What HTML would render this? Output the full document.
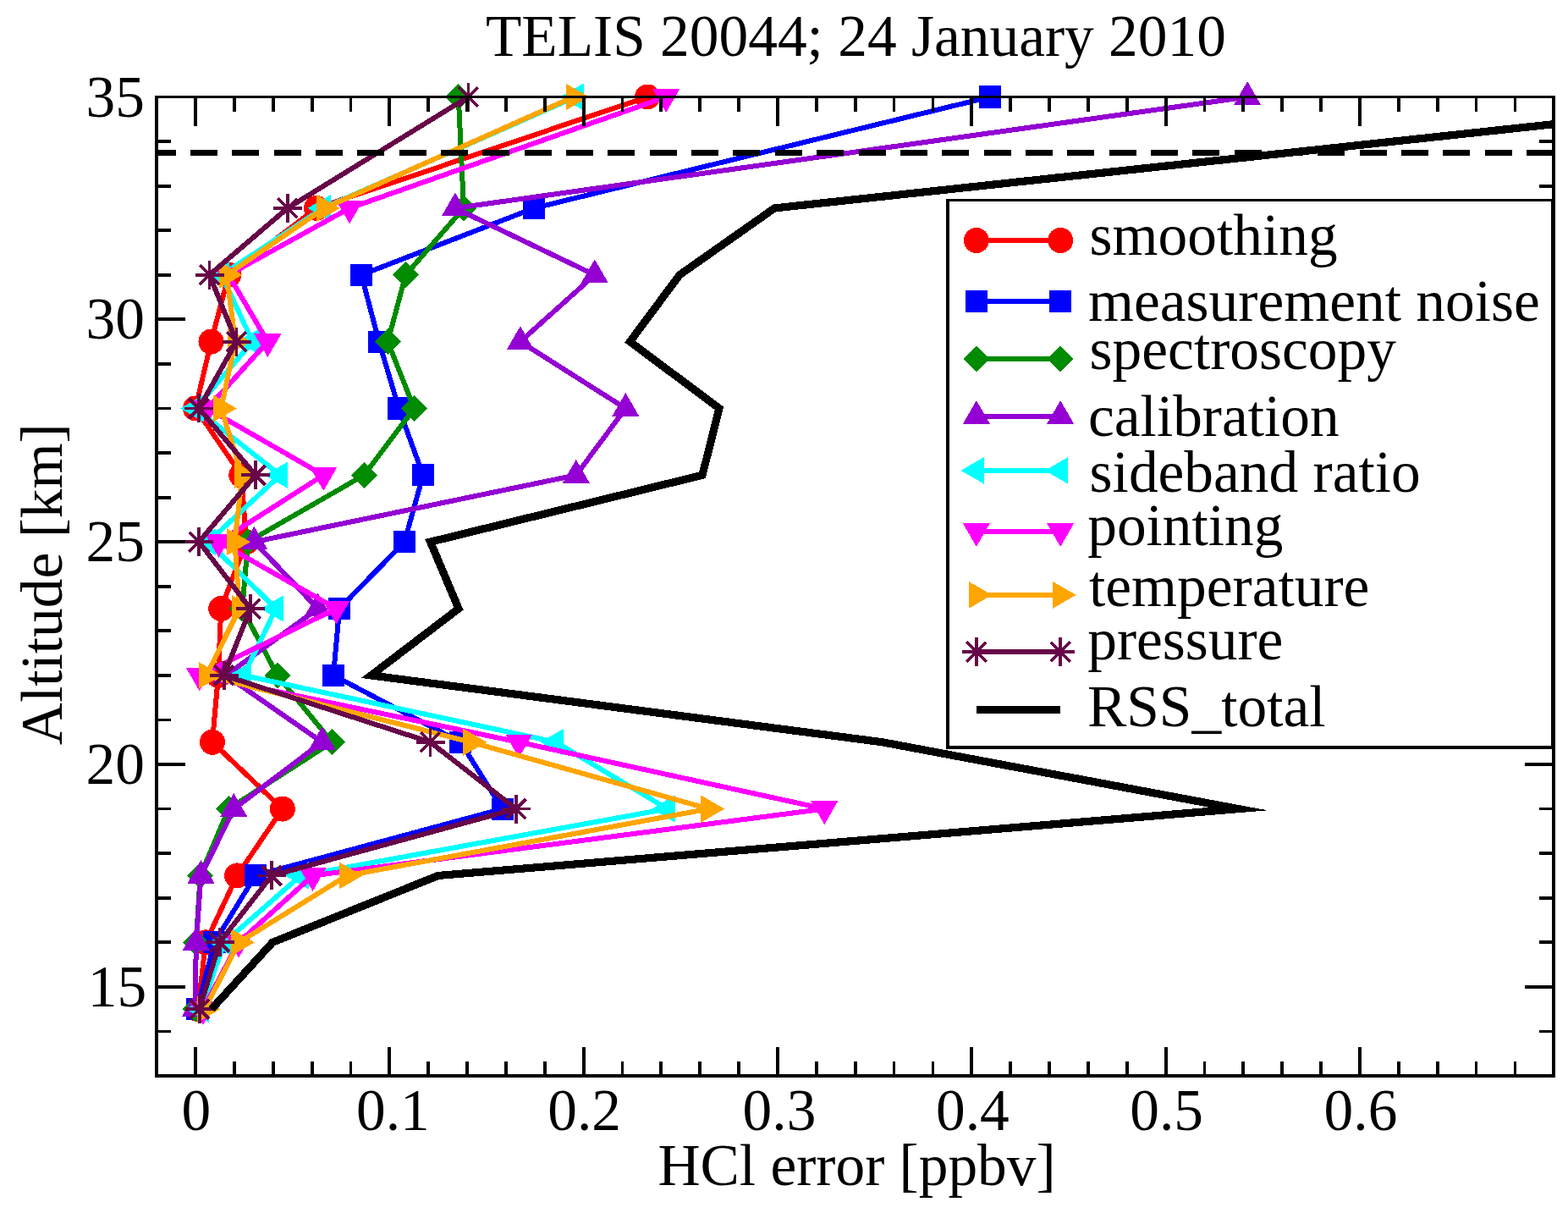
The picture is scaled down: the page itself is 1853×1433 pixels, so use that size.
<!DOCTYPE html>
<html lang="en"><head><meta charset="utf-8"><title>TELIS 20044; 24 January 2010</title>
<style>html,body{margin:0;padding:0;background:#fff}body{width:1853px;height:1433px;overflow:hidden}svg{display:block}text{font-family:"Liberation Serif","Times New Roman",Times,serif;font-size:69.4px;fill:#000}</style></head><body>
<svg width="1853" height="1433" viewBox="0 0 1853 1433">
<rect width="1853" height="1433" fill="#fff"/>
<defs><clipPath id="clip"><rect x="185" y="114.5" width="1650.8" height="1156.5"/></clipPath></defs>
<g shape-rendering="crispEdges">
<g><polyline clip-path="url(#clip)" points="234,1192.15 243,1113.3 280.2,1034.44 333.8,955.59 250.9,876.74 258,797.89 261.2,719.03 291,640.18 285.3,561.33 231,482.48 249.5,403.62 270.3,324.77 374,245.92 765.1,114.5" fill="none" stroke="#ff0000" stroke-width="6" stroke-linejoin="round"/>
<circle cx="234" cy="1192.15" r="15" fill="#ff0000"/>
<circle cx="243" cy="1113.3" r="15" fill="#ff0000"/>
<circle cx="280.2" cy="1034.44" r="15" fill="#ff0000"/>
<circle cx="333.8" cy="955.59" r="15" fill="#ff0000"/>
<circle cx="250.9" cy="876.74" r="15" fill="#ff0000"/>
<circle cx="258" cy="797.89" r="15" fill="#ff0000"/>
<circle cx="261.2" cy="719.03" r="15" fill="#ff0000"/>
<circle cx="291" cy="640.18" r="15" fill="#ff0000"/>
<circle cx="285.3" cy="561.33" r="15" fill="#ff0000"/>
<circle cx="231" cy="482.48" r="15" fill="#ff0000"/>
<circle cx="249.5" cy="403.62" r="15" fill="#ff0000"/>
<circle cx="270.3" cy="324.77" r="15" fill="#ff0000"/>
<circle cx="374" cy="245.92" r="15" fill="#ff0000"/>
<circle cx="765.1" cy="114.5" r="15" fill="#ff0000"/>
</g>
<g><polyline clip-path="url(#clip)" points="233,1192.15 253.5,1113.3 301.7,1034.44 593.7,955.59 544.2,876.74 394,797.89 401.1,719.03 478,640.18 499.9,561.33 471.3,482.48 447.9,403.62 427,324.77 631.1,245.92 1170,114.5" fill="none" stroke="#0000ff" stroke-width="6" stroke-linejoin="round"/>
<rect x="219.95" y="1179.1" width="26.1" height="26.1" fill="#0000ff"/>
<rect x="240.45" y="1100.25" width="26.1" height="26.1" fill="#0000ff"/>
<rect x="288.65" y="1021.39" width="26.1" height="26.1" fill="#0000ff"/>
<rect x="580.65" y="942.54" width="26.1" height="26.1" fill="#0000ff"/>
<rect x="531.15" y="863.69" width="26.1" height="26.1" fill="#0000ff"/>
<rect x="380.95" y="784.84" width="26.1" height="26.1" fill="#0000ff"/>
<rect x="388.05" y="705.98" width="26.1" height="26.1" fill="#0000ff"/>
<rect x="464.95" y="627.13" width="26.1" height="26.1" fill="#0000ff"/>
<rect x="486.85" y="548.28" width="26.1" height="26.1" fill="#0000ff"/>
<rect x="458.25" y="469.43" width="26.1" height="26.1" fill="#0000ff"/>
<rect x="434.85" y="390.57" width="26.1" height="26.1" fill="#0000ff"/>
<rect x="413.95" y="311.72" width="26.1" height="26.1" fill="#0000ff"/>
<rect x="618.05" y="232.87" width="26.1" height="26.1" fill="#0000ff"/>
<rect x="1156.95" y="101.45" width="26.1" height="26.1" fill="#0000ff"/>
</g>
<g><polyline clip-path="url(#clip)" points="231,1192.15 231.7,1113.3 236.7,1034.44 270.2,955.59 392.4,876.74 327.8,797.89 286.3,719.03 293,640.18 430.2,561.33 489.4,482.48 458.3,403.62 479.4,324.77 548,245.92 541.8,114.5" fill="none" stroke="#008b00" stroke-width="6" stroke-linejoin="round"/>
<polygon points="231,1176.65 246.5,1192.15 231,1207.65 215.5,1192.15" fill="#008b00"/>
<polygon points="231.7,1097.8 247.2,1113.3 231.7,1128.8 216.2,1113.3" fill="#008b00"/>
<polygon points="236.7,1018.94 252.2,1034.44 236.7,1049.94 221.2,1034.44" fill="#008b00"/>
<polygon points="270.2,940.09 285.7,955.59 270.2,971.09 254.7,955.59" fill="#008b00"/>
<polygon points="392.4,861.24 407.9,876.74 392.4,892.24 376.9,876.74" fill="#008b00"/>
<polygon points="327.8,782.39 343.3,797.89 327.8,813.39 312.3,797.89" fill="#008b00"/>
<polygon points="286.3,703.53 301.8,719.03 286.3,734.53 270.8,719.03" fill="#008b00"/>
<polygon points="293,624.68 308.5,640.18 293,655.68 277.5,640.18" fill="#008b00"/>
<polygon points="430.2,545.83 445.7,561.33 430.2,576.83 414.7,561.33" fill="#008b00"/>
<polygon points="489.4,466.98 504.9,482.48 489.4,497.98 473.9,482.48" fill="#008b00"/>
<polygon points="458.3,388.12 473.8,403.62 458.3,419.12 442.8,403.62" fill="#008b00"/>
<polygon points="479.4,309.27 494.9,324.77 479.4,340.27 463.9,324.77" fill="#008b00"/>
<polygon points="548,230.42 563.5,245.92 548,261.42 532.5,245.92" fill="#008b00"/>
<polygon points="541.8,99 557.3,114.5 541.8,130 526.3,114.5" fill="#008b00"/>
</g>
<g><polyline clip-path="url(#clip)" points="230.7,1192.15 231.8,1113.3 237.5,1034.44 276.3,955.59 380.7,876.74 267,797.89 375.6,719.03 300.4,640.18 680.8,561.33 739.3,482.48 614.9,403.62 702.8,324.77 537.9,245.92 1474.1,114.5" fill="none" stroke="#9400d3" stroke-width="6" stroke-linejoin="round"/>
<polygon points="230.7,1173.67 214.7,1201.39 246.7,1201.39" fill="#9400d3"/>
<polygon points="231.8,1094.82 215.8,1122.53 247.8,1122.53" fill="#9400d3"/>
<polygon points="237.5,1015.97 221.5,1043.68 253.5,1043.68" fill="#9400d3"/>
<polygon points="276.3,937.12 260.3,964.83 292.3,964.83" fill="#9400d3"/>
<polygon points="380.7,858.26 364.7,885.98 396.7,885.98" fill="#9400d3"/>
<polygon points="267,779.41 251,807.12 283,807.12" fill="#9400d3"/>
<polygon points="375.6,700.56 359.6,728.27 391.6,728.27" fill="#9400d3"/>
<polygon points="300.4,621.71 284.4,649.42 316.4,649.42" fill="#9400d3"/>
<polygon points="680.8,542.85 664.8,570.57 696.8,570.57" fill="#9400d3"/>
<polygon points="739.3,464 723.3,491.71 755.3,491.71" fill="#9400d3"/>
<polygon points="614.9,385.15 598.9,412.86 630.9,412.86" fill="#9400d3"/>
<polygon points="702.8,306.3 686.8,334.01 718.8,334.01" fill="#9400d3"/>
<polygon points="537.9,227.45 521.9,255.16 553.9,255.16" fill="#9400d3"/>
<polygon points="1474.1,96.02 1458.1,123.74 1490.1,123.74" fill="#9400d3"/>
</g>
<g><polyline clip-path="url(#clip)" points="238,1192.15 265,1113.3 355.3,1034.44 788.5,955.59 657,876.74 288,797.89 326.2,719.03 246,640.18 331.2,561.33 231.4,482.48 298.4,403.62 262,324.77 382,245.92 680.3,114.5" fill="none" stroke="#00ffff" stroke-width="6" stroke-linejoin="round"/>
<polygon points="219.52,1192.15 247.24,1176.15 247.24,1208.15" fill="#00ffff"/>
<polygon points="246.52,1113.3 274.24,1097.3 274.24,1129.3" fill="#00ffff"/>
<polygon points="336.82,1034.44 364.54,1018.44 364.54,1050.44" fill="#00ffff"/>
<polygon points="770.02,955.59 797.74,939.59 797.74,971.59" fill="#00ffff"/>
<polygon points="638.52,876.74 666.24,860.74 666.24,892.74" fill="#00ffff"/>
<polygon points="269.52,797.89 297.24,781.89 297.24,813.89" fill="#00ffff"/>
<polygon points="307.72,719.03 335.44,703.03 335.44,735.03" fill="#00ffff"/>
<polygon points="227.52,640.18 255.24,624.18 255.24,656.18" fill="#00ffff"/>
<polygon points="312.72,561.33 340.44,545.33 340.44,577.33" fill="#00ffff"/>
<polygon points="212.92,482.48 240.64,466.48 240.64,498.48" fill="#00ffff"/>
<polygon points="279.92,403.62 307.64,387.62 307.64,419.62" fill="#00ffff"/>
<polygon points="243.52,324.77 271.24,308.77 271.24,340.77" fill="#00ffff"/>
<polygon points="363.52,245.92 391.24,229.92 391.24,261.92" fill="#00ffff"/>
<polygon points="661.82,114.5 689.54,98.5 689.54,130.5" fill="#00ffff"/>
</g>
<g><polyline clip-path="url(#clip)" points="240,1192.15 282,1113.3 369.6,1034.44 974.3,955.59 613.2,876.74 235.7,797.89 397.4,719.03 258.5,640.18 382.3,561.33 245,482.48 316.4,403.62 270,324.77 413.1,245.92 787.2,114.5" fill="none" stroke="#ff00ff" stroke-width="6" stroke-linejoin="round"/>
<polygon points="240,1210.62 224,1182.91 256,1182.91" fill="#ff00ff"/>
<polygon points="282,1131.77 266,1104.06 298,1104.06" fill="#ff00ff"/>
<polygon points="369.6,1052.92 353.6,1025.21 385.6,1025.21" fill="#ff00ff"/>
<polygon points="974.3,974.07 958.3,946.35 990.3,946.35" fill="#ff00ff"/>
<polygon points="613.2,895.21 597.2,867.5 629.2,867.5" fill="#ff00ff"/>
<polygon points="235.7,816.36 219.7,788.65 251.7,788.65" fill="#ff00ff"/>
<polygon points="397.4,737.51 381.4,709.8 413.4,709.8" fill="#ff00ff"/>
<polygon points="258.5,658.66 242.5,630.94 274.5,630.94" fill="#ff00ff"/>
<polygon points="382.3,579.8 366.3,552.09 398.3,552.09" fill="#ff00ff"/>
<polygon points="245,500.95 229,473.24 261,473.24" fill="#ff00ff"/>
<polygon points="316.4,422.1 300.4,394.39 332.4,394.39" fill="#ff00ff"/>
<polygon points="270,343.25 254,315.54 286,315.54" fill="#ff00ff"/>
<polygon points="413.1,264.4 397.1,236.68 429.1,236.68" fill="#ff00ff"/>
<polygon points="787.2,132.98 771.2,105.26 803.2,105.26" fill="#ff00ff"/>
</g>
<g><polyline clip-path="url(#clip)" points="242,1192.15 282.4,1113.3 410,1034.44 837.7,955.59 556.6,876.74 243.8,797.89 283,719.03 277.4,640.18 286.3,561.33 261.3,482.48 278,403.62 268,324.77 383.4,245.92 677.8,114.5" fill="none" stroke="#ffa500" stroke-width="6" stroke-linejoin="round"/>
<polygon points="260.48,1192.15 232.76,1176.15 232.76,1208.15" fill="#ffa500"/>
<polygon points="300.88,1113.3 273.16,1097.3 273.16,1129.3" fill="#ffa500"/>
<polygon points="428.48,1034.44 400.76,1018.44 400.76,1050.44" fill="#ffa500"/>
<polygon points="856.18,955.59 828.46,939.59 828.46,971.59" fill="#ffa500"/>
<polygon points="575.08,876.74 547.36,860.74 547.36,892.74" fill="#ffa500"/>
<polygon points="262.28,797.89 234.56,781.89 234.56,813.89" fill="#ffa500"/>
<polygon points="301.48,719.03 273.76,703.03 273.76,735.03" fill="#ffa500"/>
<polygon points="295.88,640.18 268.16,624.18 268.16,656.18" fill="#ffa500"/>
<polygon points="304.78,561.33 277.06,545.33 277.06,577.33" fill="#ffa500"/>
<polygon points="279.78,482.48 252.06,466.48 252.06,498.48" fill="#ffa500"/>
<polygon points="296.48,403.62 268.76,387.62 268.76,419.62" fill="#ffa500"/>
<polygon points="286.48,324.77 258.76,308.77 258.76,340.77" fill="#ffa500"/>
<polygon points="401.88,245.92 374.16,229.92 374.16,261.92" fill="#ffa500"/>
<polygon points="696.28,114.5 668.56,98.5 668.56,130.5" fill="#ffa500"/>
</g>
<g><polyline clip-path="url(#clip)" points="235.8,1192.15 259.6,1113.3 321.1,1034.44 609.8,955.59 508.5,876.74 264.6,797.89 296,719.03 235.1,640.18 302,561.33 235.1,482.48 279.5,403.62 247.5,324.77 339.8,245.92 553.4,114.5" fill="none" stroke="#670748" stroke-width="6" stroke-linejoin="round"/>
<path d="M218.8 1192.15H252.8M235.8 1175.15V1209.15M224.29 1180.64L247.31 1203.65M224.29 1203.65L247.31 1180.64" stroke="#670748" stroke-width="3.8" stroke-linecap="butt" fill="none"/>
<path d="M242.6 1113.3H276.6M259.6 1096.3V1130.3M248.09 1101.79L271.11 1124.8M248.09 1124.8L271.11 1101.79" stroke="#670748" stroke-width="3.8" stroke-linecap="butt" fill="none"/>
<path d="M304.1 1034.44H338.1M321.1 1017.44V1051.44M309.59 1022.94L332.61 1045.95M309.59 1045.95L332.61 1022.94" stroke="#670748" stroke-width="3.8" stroke-linecap="butt" fill="none"/>
<path d="M592.8 955.59H626.8M609.8 938.59V972.59M598.29 944.08L621.31 967.1M598.29 967.1L621.31 944.08" stroke="#670748" stroke-width="3.8" stroke-linecap="butt" fill="none"/>
<path d="M491.5 876.74H525.5M508.5 859.74V893.74M496.99 865.23L520.01 888.25M496.99 888.25L520.01 865.23" stroke="#670748" stroke-width="3.8" stroke-linecap="butt" fill="none"/>
<path d="M247.6 797.89H281.6M264.6 780.89V814.89M253.09 786.38L276.11 809.39M253.09 809.39L276.11 786.38" stroke="#670748" stroke-width="3.8" stroke-linecap="butt" fill="none"/>
<path d="M279 719.03H313M296 702.03V736.03M284.49 707.53L307.51 730.54M284.49 730.54L307.51 707.53" stroke="#670748" stroke-width="3.8" stroke-linecap="butt" fill="none"/>
<path d="M218.1 640.18H252.1M235.1 623.18V657.18M223.59 628.68L246.61 651.69M223.59 651.69L246.61 628.68" stroke="#670748" stroke-width="3.8" stroke-linecap="butt" fill="none"/>
<path d="M285 561.33H319M302 544.33V578.33M290.49 549.82L313.51 572.84M290.49 572.84L313.51 549.82" stroke="#670748" stroke-width="3.8" stroke-linecap="butt" fill="none"/>
<path d="M218.1 482.48H252.1M235.1 465.48V499.48M223.59 470.97L246.61 493.98M223.59 493.98L246.61 470.97" stroke="#670748" stroke-width="3.8" stroke-linecap="butt" fill="none"/>
<path d="M262.5 403.62H296.5M279.5 386.62V420.62M267.99 392.12L291.01 415.13M267.99 415.13L291.01 392.12" stroke="#670748" stroke-width="3.8" stroke-linecap="butt" fill="none"/>
<path d="M230.5 324.77H264.5M247.5 307.77V341.77M235.99 313.27L259.01 336.28M235.99 336.28L259.01 313.27" stroke="#670748" stroke-width="3.8" stroke-linecap="butt" fill="none"/>
<path d="M322.8 245.92H356.8M339.8 228.92V262.92M328.29 234.41L351.31 257.43M328.29 257.43L351.31 234.41" stroke="#670748" stroke-width="3.8" stroke-linecap="butt" fill="none"/>
<path d="M536.4 114.5H570.4M553.4 97.5V131.5M541.89 102.99L564.91 126.01M541.89 126.01L564.91 102.99" stroke="#670748" stroke-width="3.8" stroke-linecap="butt" fill="none"/>
</g>
<polyline clip-path="url(#clip)" points="250,1192.15 322.1,1113.3 517.8,1034.44 1463.6,955.59 1042.5,876.74 438.5,797.89 542,719.03 508.6,640.18 830,561.33 850,482.48 744.5,403.62 803.1,324.77 915.3,245.92 2135,114.5" fill="none" stroke="#000" stroke-width="9.2" stroke-linejoin="miter" stroke-miterlimit="10"/>
<path clip-path="url(#clip)" d="M175.6 180.4H1900" stroke="#000" stroke-width="7" stroke-dasharray="32 17.35" fill="none"/>
<path d="M231 1271v-34M231 114.5v34M276.87 1271v-17M276.87 114.5v17M322.73 1271v-17M322.73 114.5v17M368.6 1271v-17M368.6 114.5v17M414.46 1271v-17M414.46 114.5v17M460.33 1271v-34M460.33 114.5v34M506.2 1271v-17M506.2 114.5v17M552.06 1271v-17M552.06 114.5v17M597.93 1271v-17M597.93 114.5v17M643.79 1271v-17M643.79 114.5v17M689.66 1271v-34M689.66 114.5v34M735.53 1271v-17M735.53 114.5v17M781.39 1271v-17M781.39 114.5v17M827.26 1271v-17M827.26 114.5v17M873.12 1271v-17M873.12 114.5v17M918.99 1271v-34M918.99 114.5v34M964.86 1271v-17M964.86 114.5v17M1010.72 1271v-17M1010.72 114.5v17M1056.59 1271v-17M1056.59 114.5v17M1102.45 1271v-17M1102.45 114.5v17M1148.32 1271v-34M1148.32 114.5v34M1194.19 1271v-17M1194.19 114.5v17M1240.05 1271v-17M1240.05 114.5v17M1285.92 1271v-17M1285.92 114.5v17M1331.78 1271v-17M1331.78 114.5v17M1377.65 1271v-34M1377.65 114.5v34M1423.52 1271v-17M1423.52 114.5v17M1469.38 1271v-17M1469.38 114.5v17M1515.25 1271v-17M1515.25 114.5v17M1561.11 1271v-17M1561.11 114.5v17M1606.98 1271v-34M1606.98 114.5v34M1652.85 1271v-17M1652.85 114.5v17M1698.71 1271v-17M1698.71 114.5v17M1744.58 1271v-17M1744.58 114.5v17M1790.44 1271v-17M1790.44 114.5v17M185 1218.43h17M1835.8 1218.43h-17M185 1165.86h34M1835.8 1165.86h-34M185 1113.3h17M1835.8 1113.3h-17M185 1060.73h17M1835.8 1060.73h-17M185 1008.16h17M1835.8 1008.16h-17M185 955.59h17M1835.8 955.59h-17M185 903.02h34M1835.8 903.02h-34M185 850.45h17M1835.8 850.45h-17M185 797.89h17M1835.8 797.89h-17M185 745.32h17M1835.8 745.32h-17M185 692.75h17M1835.8 692.75h-17M185 640.18h34M1835.8 640.18h-34M185 587.61h17M1835.8 587.61h-17M185 535.05h17M1835.8 535.05h-17M185 482.48h17M1835.8 482.48h-17M185 429.91h17M1835.8 429.91h-17M185 377.34h34M1835.8 377.34h-34M185 324.77h17M1835.8 324.77h-17M185 272.2h17M1835.8 272.2h-17M185 219.64h17M1835.8 219.64h-17M185 167.07h17M1835.8 167.07h-17" stroke="#000" stroke-width="3.8" fill="none"/>
<path d="M183 114.5H1838" stroke="#000" stroke-width="3" fill="none"/>
<path d="M183 1271H1838M185 113V1273M1836 113V1273" stroke="#000" stroke-width="4" fill="none"/>
<rect x="1120" y="236.5" width="715" height="646.5" fill="#fff"/>
<path d="M1118 236.5H1837" stroke="#000" stroke-width="3" fill="none"/>
<path d="M1118 883H1837M1120 235V885M1835 235V885" stroke="#000" stroke-width="4" fill="none"/>
<path d="M1153.9 284H1253.2" stroke="#ff0000" stroke-width="6"/>
<circle cx="1153.9" cy="284" r="15" fill="#ff0000"/>
<circle cx="1253.2" cy="284" r="15" fill="#ff0000"/>
<path d="M1153.9 355.8H1253.2" stroke="#0000ff" stroke-width="6"/>
<rect x="1140.85" y="342.75" width="26.1" height="26.1" fill="#0000ff"/>
<rect x="1240.15" y="342.75" width="26.1" height="26.1" fill="#0000ff"/>
<path d="M1153.9 424.1H1253.2" stroke="#008b00" stroke-width="6"/>
<polygon points="1153.9,408.6 1169.4,424.1 1153.9,439.6 1138.4,424.1" fill="#008b00"/>
<polygon points="1253.2,408.6 1268.7,424.1 1253.2,439.6 1237.7,424.1" fill="#008b00"/>
<path d="M1153.9 491.5H1253.2" stroke="#9400d3" stroke-width="6"/>
<polygon points="1153.9,473.02 1137.9,500.74 1169.9,500.74" fill="#9400d3"/>
<polygon points="1253.2,473.02 1237.2,500.74 1269.2,500.74" fill="#9400d3"/>
<path d="M1153.9 555.9H1253.2" stroke="#00ffff" stroke-width="6"/>
<polygon points="1135.42,555.9 1163.14,539.9 1163.14,571.9" fill="#00ffff"/>
<polygon points="1234.72,555.9 1262.44,539.9 1262.44,571.9" fill="#00ffff"/>
<path d="M1153.9 627.5H1253.2" stroke="#ff00ff" stroke-width="6"/>
<polygon points="1153.9,645.98 1137.9,618.26 1169.9,618.26" fill="#ff00ff"/>
<polygon points="1253.2,645.98 1237.2,618.26 1269.2,618.26" fill="#ff00ff"/>
<path d="M1153.9 702.9H1253.2" stroke="#ffa500" stroke-width="6"/>
<polygon points="1172.38,702.9 1144.66,686.9 1144.66,718.9" fill="#ffa500"/>
<polygon points="1271.68,702.9 1243.96,686.9 1243.96,718.9" fill="#ffa500"/>
<path d="M1153.9 770.1H1253.2" stroke="#670748" stroke-width="6"/>
<path d="M1136.9 770.1H1170.9M1153.9 753.1V787.1M1142.39 758.59L1165.41 781.61M1142.39 781.61L1165.41 758.59" stroke="#670748" stroke-width="3.8" stroke-linecap="butt" fill="none"/>
<path d="M1236.2 770.1H1270.2M1253.2 753.1V787.1M1241.69 758.59L1264.71 781.61M1241.69 781.61L1264.71 758.59" stroke="#670748" stroke-width="3.8" stroke-linecap="butt" fill="none"/>
<path d="M1153.9 838.6H1253.2" stroke="#000" stroke-width="8.6"/>
</g>
<g>
<text x="1287.6" y="300.6">smoothing</text>
<text x="1286" y="379">measurement noise</text>
<text x="1287.6" y="436.4">spectroscopy</text>
<text x="1286" y="515.3">calibration</text>
<text x="1287.6" y="580.5">sideband ratio</text>
<text x="1285.2" y="644.1">pointing</text>
<text x="1287" y="715.9">temperature</text>
<text x="1285.2" y="779">pressure</text>
<text x="1285" y="857.9">RSS_total</text>
<text x="1011.4" y="66.1" text-anchor="middle">TELIS 20044; 24 January 2010</text>
<text x="1012.5" y="1399.9" text-anchor="middle">HCl error [ppbv]</text>
<text transform="translate(73 690.3) rotate(-90)" text-anchor="middle">Altitude [km]</text>
<text x="173.2" y="1188.86" text-anchor="end">15</text>
<text x="171" y="926.02" text-anchor="end">20</text>
<text x="171" y="663.18" text-anchor="end">25</text>
<text x="171" y="400.34" text-anchor="end">30</text>
<text x="171" y="137.5" text-anchor="end">35</text>
<text x="231.8" y="1334.6" text-anchor="middle">0</text>
<text x="464.33" y="1334.6" text-anchor="middle">0.1</text>
<text x="690.66" y="1334.6" text-anchor="middle">0.2</text>
<text x="920.99" y="1334.6" text-anchor="middle">0.3</text>
<text x="1149.32" y="1334.6" text-anchor="middle">0.4</text>
<text x="1378.65" y="1334.6" text-anchor="middle">0.5</text>
<text x="1607.98" y="1334.6" text-anchor="middle">0.6</text>
</g>
</svg></body></html>
